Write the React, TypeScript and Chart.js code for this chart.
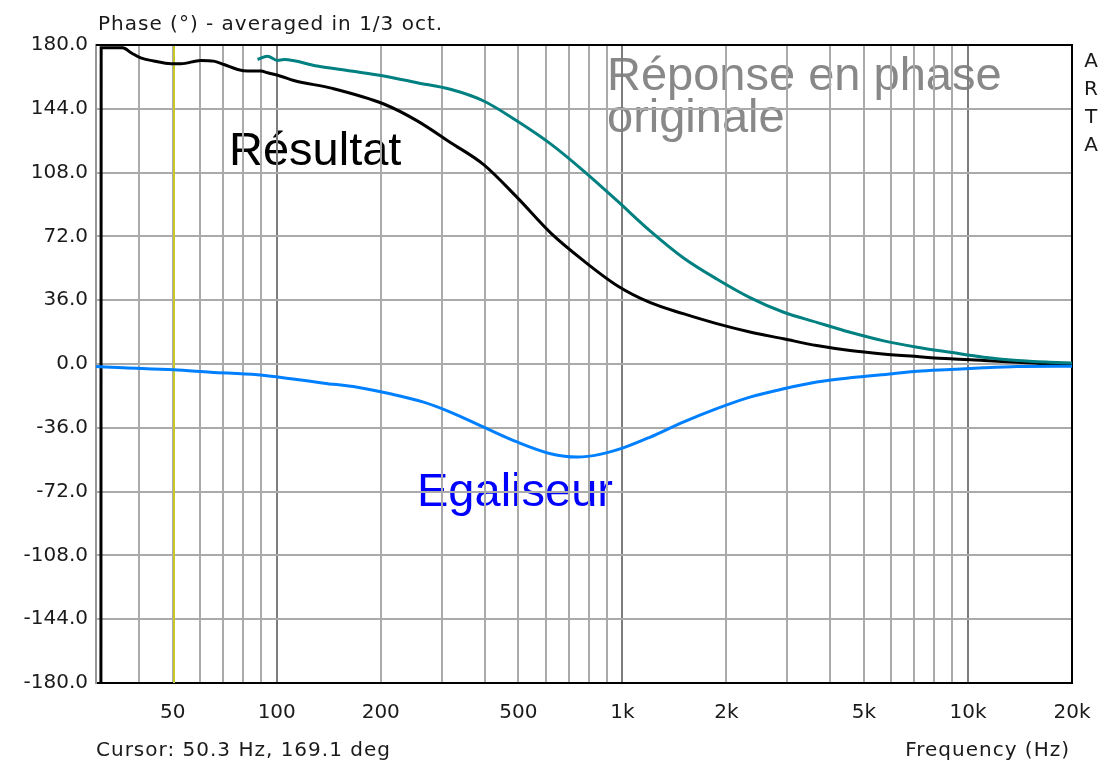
import React, { useEffect, useRef } from 'react';
import { Chart, registerables } from 'chart.js';

Chart.register(...registerables);

// ---- data ----
const resultFreq = [31.0, 31.05, 35.8, 38, 40.4, 44, 49.4, 52.8, 60.3, 65.7, 70.3, 77.1, 82.4, 89.9, 94.2, 102.7, 112, 145, 204, 255, 318, 397, 496, 620, 772, 967, 1205, 1500, 1875, 2340, 2930, 3650, 4560, 5670, 7130, 8890, 11100, 13900, 17200, 20000];
const resultPhase = [-180, 178.4, 178.4, 175.5, 172.7, 171, 169.4, 169.4, 171.3, 170.9, 169, 166.2, 165.3, 165.3, 164.3, 162.4, 160, 155.5, 146.7, 137.2, 125, 112.5, 94, 74, 58.3, 44.2, 34.6, 28.4, 22.8, 18.1, 14.2, 10.4, 7.6, 5.7, 4.2, 2.9, 2.0, 1.0, 0.1, -0.2];

const originalFreq = [88, 94, 100.5, 105, 131, 164, 204, 255, 318, 397, 496, 620, 772, 967, 1205, 1500, 1875, 2340, 2930, 3650, 4560, 5670, 7130, 8890, 11100, 13900, 17200, 20000];
const originalPhase = [171.8, 173.7, 171.3, 171.8, 168.1, 165.3, 162.5, 158.7, 155, 148.4, 137.1, 124.2, 109, 92, 75, 60, 48, 37.5, 29.2, 23.5, 17.9, 13.2, 9.5, 6.6, 3.8, 2.0, 1.0, 0.5];

const eqFreq = [30, 36.1, 50.4, 64.4, 88, 110, 137, 171, 213, 266, 318, 397, 496, 620, 741, 861, 1010, 1205, 1500, 1875, 2340, 2930, 3650, 4560, 6050, 7130, 8890, 11100, 13900, 20000];
const eqPhase = [-1.4, -2.1, -3.3, -4.6, -6.1, -8.3, -10.8, -13.1, -16.8, -21.5, -27.1, -35.6, -44, -50.6, -52.5, -51, -47.2, -41.2, -32.8, -25.2, -18.7, -14, -10.2, -7.8, -5.5, -4.1, -3.1, -2.1, -1.4, -1.2];

const xGridValues = [30, 40, 50, 60, 70, 80, 90, 100, 200, 300, 400, 500, 600, 700, 800, 900, 1000, 2000, 3000, 4000, 5000, 6000, 7000, 8000, 9000, 10000, 20000];
const xLabelValues = [50, 100, 200, 500, 1000, 2000, 5000, 10000, 20000];
const xLabelText = ['50', '100', '200', '500', '1k', '2k', '5k', '10k', '20k'];
const decadeValues = [100, 1000, 10000];
const yTickValues = [-180, -144, -108, -72, -36, 0, 36, 72, 108, 144, 180];

const cursorFreq = 50.3;
const titleText = 'Phase (°) - averaged in 1/3 oct.';
const cursorText = 'Cursor: 50.3 Hz, 169.1 deg';
const xAxisTitle = 'Frequency (Hz)';
const brandLetters = ['A', 'R', 'T', 'A'];

const W = 1101;
const H = 764;
const UI_FONT = '"DejaVu Sans", sans-serif';
const BIG_FONT = '"Liberation Sans", Arial, sans-serif';

const toPoints = (xs: number[], ys: number[]) => xs.map((x, i) => ({ x, y: ys[i] }));

export default function App() {
  const ref = useRef<HTMLCanvasElement | null>(null);

  useEffect(() => {
    const canvas = ref.current;
    if (!canvas) return;

    const decorPlugin = {
      id: 'decor',
      beforeDraw(chart: any) {
        const { ctx } = chart;
        ctx.save();
        ctx.fillStyle = '#ffffff';
        ctx.fillRect(0, 0, W, H);
        // annotations (under the grid)
        ctx.textBaseline = 'alphabetic';
        ctx.textAlign = 'left';
        ctx.font = `47px ${BIG_FONT}`;
        ctx.fillStyle = '#888888';
        ctx.fillText('Réponse en phase', 607, 90);
        ctx.fillText('originale', 607, 132);
        ctx.fillStyle = '#000000';
        ctx.fillText('Résultat', 229, 165);
        ctx.fillStyle = '#0000ff';
        ctx.fillText('Egaliseur', 417, 506);
        ctx.restore();
      },
      beforeDatasetsDraw(chart: any) {
        const { ctx, chartArea: a, scales } = chart;
        ctx.save();
        // cursor line
        const cx = Math.round(scales.x.getPixelForValue(cursorFreq));
        ctx.strokeStyle = 'rgb(200,200,40)';
        ctx.lineWidth = 2;
        ctx.beginPath();
        ctx.moveTo(cx, a.top);
        ctx.lineTo(cx, a.bottom);
        ctx.stroke();
        // frame top / right
        ctx.strokeStyle = '#000000';
        ctx.lineWidth = 2;
        ctx.beginPath();
        ctx.moveTo(a.left, a.top);
        ctx.lineTo(a.right, a.top);
        ctx.lineTo(a.right, a.bottom);
        ctx.stroke();
        ctx.restore();
      },
      afterDraw(chart: any) {
        const { ctx } = chart;
        ctx.save();
        (ctx as any).letterSpacing = '1px';
        ctx.fillStyle = '#1a1a1a';
        ctx.font = `20px ${UI_FONT}`;
        ctx.textBaseline = 'alphabetic';
        ctx.textAlign = 'left';
        ctx.fillText(titleText, 98, 30);
        ctx.fillText(cursorText, 96, 756);
        ctx.textAlign = 'right';
        ctx.fillText(xAxisTitle, 1070, 756);
        ctx.textAlign = 'center';
        ctx.textBaseline = 'middle';
        (ctx as any).letterSpacing = '0px';
        brandLetters.forEach((l, i) => ctx.fillText(l, 1091, 62 + i * 28));
        ctx.restore();
      },
    };

    const gridColor = (c: any) =>
      c.tick && decadeValues.includes(c.tick.value) ? 'rgb(125,125,125)' : 'rgb(170,170,170)';

    const lineCommon = {
      borderWidth: 3,
      pointRadius: 0,
      cubicInterpolationMode: 'monotone',
    };

    const chart = new Chart(canvas, {
      type: 'line',
      data: {
        datasets: [
          {
            label: 'Egaliseur',
            data: toPoints(eqFreq, eqPhase),
            borderColor: 'rgb(0,128,255)',
            order: 0,
            ...lineCommon,
          },
          {
            label: 'Réponse en phase originale',
            data: toPoints(originalFreq, originalPhase),
            borderColor: 'rgb(0,128,128)',
            order: 1,
            ...lineCommon,
          },
          {
            label: 'Résultat',
            data: toPoints(resultFreq, resultPhase),
            borderColor: '#000000',
            order: 2,
            ...lineCommon,
          },
        ],
      },
      options: {
        animation: false,
        responsive: false,
        devicePixelRatio: 1,
        parsing: false as any,
        normalized: true,
        layout: { padding: { top: 45, right: 29, left: 0, bottom: 0 } },
        plugins: { legend: { display: false }, tooltip: { enabled: false } },
        scales: {
          x: {
            type: 'logarithmic',
            min: 30,
            max: 20000,
            position: 'bottom',
            afterBuildTicks: (s: any) => {
              s.ticks = xGridValues.map((v) => ({ value: v }));
            },
            afterFit: (s: any) => {
              s.height = 81;
              s.paddingLeft = 0;
              s.paddingRight = 0;
            },
            ticks: {
              autoSkip: false,
              maxRotation: 0,
              minRotation: 0,
              padding: 18,
              color: '#1a1a1a',
              font: { family: UI_FONT, size: 20 },
              callback: (v: any) => {
                const i = xLabelValues.indexOf(Number(v));
                return i >= 0 ? xLabelText[i] : '';
              },
            },
            grid: { color: gridColor, lineWidth: 2, drawTicks: false },
            border: { color: '#000000', width: 2 },
          },
          y: {
            type: 'linear',
            min: -180,
            max: 180,
            afterBuildTicks: (s: any) => {
              s.ticks = yTickValues.map((v) => ({ value: v }));
            },
            afterFit: (s: any) => {
              s.width = 96;
              s.paddingTop = 0;
              s.paddingBottom = 0;
            },
            ticks: {
              padding: 8,
              color: '#1a1a1a',
              font: { family: UI_FONT, size: 20 },
              callback: (v: any) => Number(v).toFixed(1),
            },
            grid: { color: 'rgb(170,170,170)', lineWidth: 2, drawTicks: false },
            border: { color: 'rgb(150,150,150)', width: 2 },
          },
        },
      },
      plugins: [decorPlugin],
    } as any);

    return () => chart.destroy();
  }, []);

  return (
    <div style={{ position: 'fixed', left: 0, top: 0, width: W, height: H, background: '#fff' }}>
      <canvas ref={ref} width={W} height={H} style={{ width: W, height: H, display: 'block' }} />
    </div>
  );
}
